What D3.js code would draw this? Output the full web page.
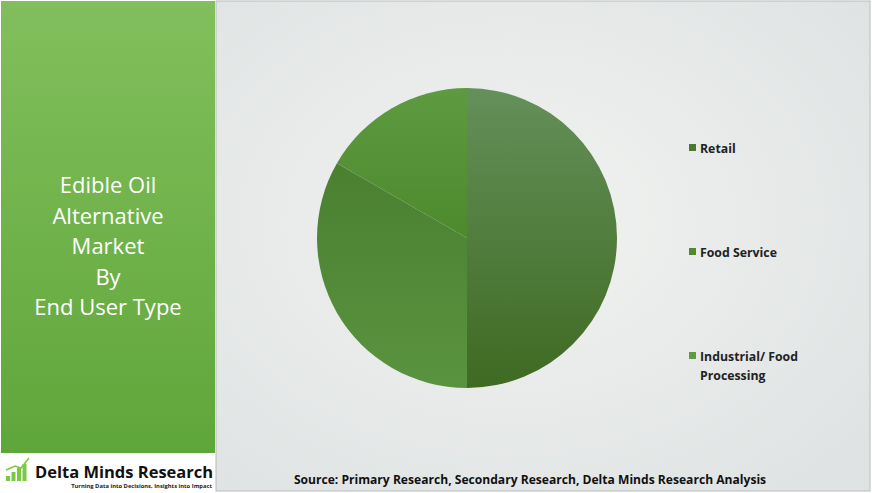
<!DOCTYPE html>
<html lang="en">
<head>
<script src="https://d3js.org/d3.v7.min.js"></script>
<style>
  body {margin:0; font-family:"Open Sans", "Noto Sans", sans-serif;}
</style>
</head>
<body>
<svg width="872" height="493"></svg>
<script>
  // data
  var categories = ['Retail', 'Food Service', 'Industrial/ Food Processing'];
  var shares = [50, 33.3, 16.7];
  var colors = ['#4a7a30', '#4f8a2f', '#5e9a40'];
  var legendLines = [['Retail'], ['Food Service'], ['Industrial/ Food', 'Processing']];

  var svg = d3.select('svg');
  var defs = svg.append('defs');

  var bg = defs.append('radialGradient').attr('id', 'bg').attr('cx', '45%').attr('cy', '45%').attr('r', '70%');
  bg.append('stop').attr('offset', '0%').attr('stop-color', '#f2f3f1');
  bg.append('stop').attr('offset', '100%').attr('stop-color', '#dfe3e3');

  var side = defs.append('linearGradient').attr('id', 'side').attr('x1', 0).attr('y1', 0).attr('x2', 0).attr('y2', 1);
  side.append('stop').attr('offset', '0%').attr('stop-color', '#82bf5c');
  side.append('stop').attr('offset', '100%').attr('stop-color', '#5fa63a');

  var sliceGrads = [['#64905a', '#3f6a22'], ['#4a8030', '#5a9340'], ['#5e9a40', '#4d8a2e']];
  sliceGrads.forEach(function (c, i) {
    var g = defs.append('linearGradient').attr('id', 'sl' + i).attr('x1', 0).attr('y1', 0).attr('x2', 0).attr('y2', 1);
    g.append('stop').attr('offset', '0%').attr('stop-color', c[0]);
    g.append('stop').attr('offset', '100%').attr('stop-color', c[1]);
  });

  svg.append('rect').attr('width', 872).attr('height', 493).attr('fill', '#ffffff');
  svg.append('rect').attr('x', 216).attr('y', 1).attr('width', 654).attr('height', 490)
    .attr('fill', 'url(#bg)').attr('stroke', '#b8bcbc');
  svg.append('rect').attr('x', 1).attr('y', 1).attr('width', 214).attr('height', 452).attr('fill', 'url(#side)');

  // title
  var title = ['Edible Oil', 'Alternative', 'Market', 'By', 'End User Type'];
  svg.append('text').attr('x', 108).attr('y', 193).attr('fill', '#fff')
    .attr('font-size', 22).attr('text-anchor', 'middle')
    .selectAll('tspan').data(title).enter().append('tspan')
    .attr('x', 108).attr('dy', (d, i) => i ? 30.5 : 0).text(d => d);

  // pie
  var pie = d3.pie().sort(null).value(d => d);
  var arc = d3.arc().innerRadius(0).outerRadius(150);
  svg.append('g').attr('transform', 'translate(467,238)')
    .selectAll('path').data(pie(shares)).enter().append('path')
    .attr('d', arc).attr('fill', (d, i) => 'url(#sl' + i + ')');

  // legend
  var lg = svg.selectAll('.lg').data(legendLines).enter().append('g')
    .attr('transform', (d, i) => 'translate(689,' + (148 + i * 104) + ')');
  lg.append('rect').attr('x', 0).attr('y', -4).attr('width', 7).attr('height', 7)
    .attr('fill', (d, i) => colors[i]);
  lg.append('text').attr('font-size', 12.3).attr('font-weight', 'bold').attr('fill', '#222')
    .selectAll('tspan').data(d => d).enter().append('tspan')
    .attr('x', 11).attr('y', (d, i) => 4.5 + i * 19).text(d => d);

  // source
  svg.append('text').attr('x', 530).attr('y', 484).attr('text-anchor', 'middle')
    .attr('font-size', 12.1).attr('font-weight', 'bold').attr('fill', '#111')
    .text('Source: Primary Research, Secondary Research, Delta Minds Research Analysis');

  // logo
  var bars = [5, 9, 13, 17];
  svg.selectAll('.lb').data(bars).enter().append('rect')
    .attr('x', (d, i) => 6 + i * 5.5).attr('y', d => 481 - d).attr('width', 4).attr('height', d => d)
    .attr('fill', '#7ac943');
  svg.append('path').attr('d', 'M6,470 L15,466 L21,468 L29,458').attr('stroke', '#7ac943')
    .attr('stroke-width', 1.5).attr('fill', 'none');
  svg.append('text').attr('x', 35).attr('y', 478).attr('font-size', 16.5).attr('font-weight', 'bold')
    .attr('fill', '#111').text('Delta Minds Research');
  svg.append('text').attr('x', 212).attr('y', 488).attr('text-anchor', 'end').attr('font-size', 5.8)
    .attr('font-weight', 'bold').attr('fill', '#222').text('Turning Data into Decisions, Insights into Impact');
</script>
</body>
</html>
